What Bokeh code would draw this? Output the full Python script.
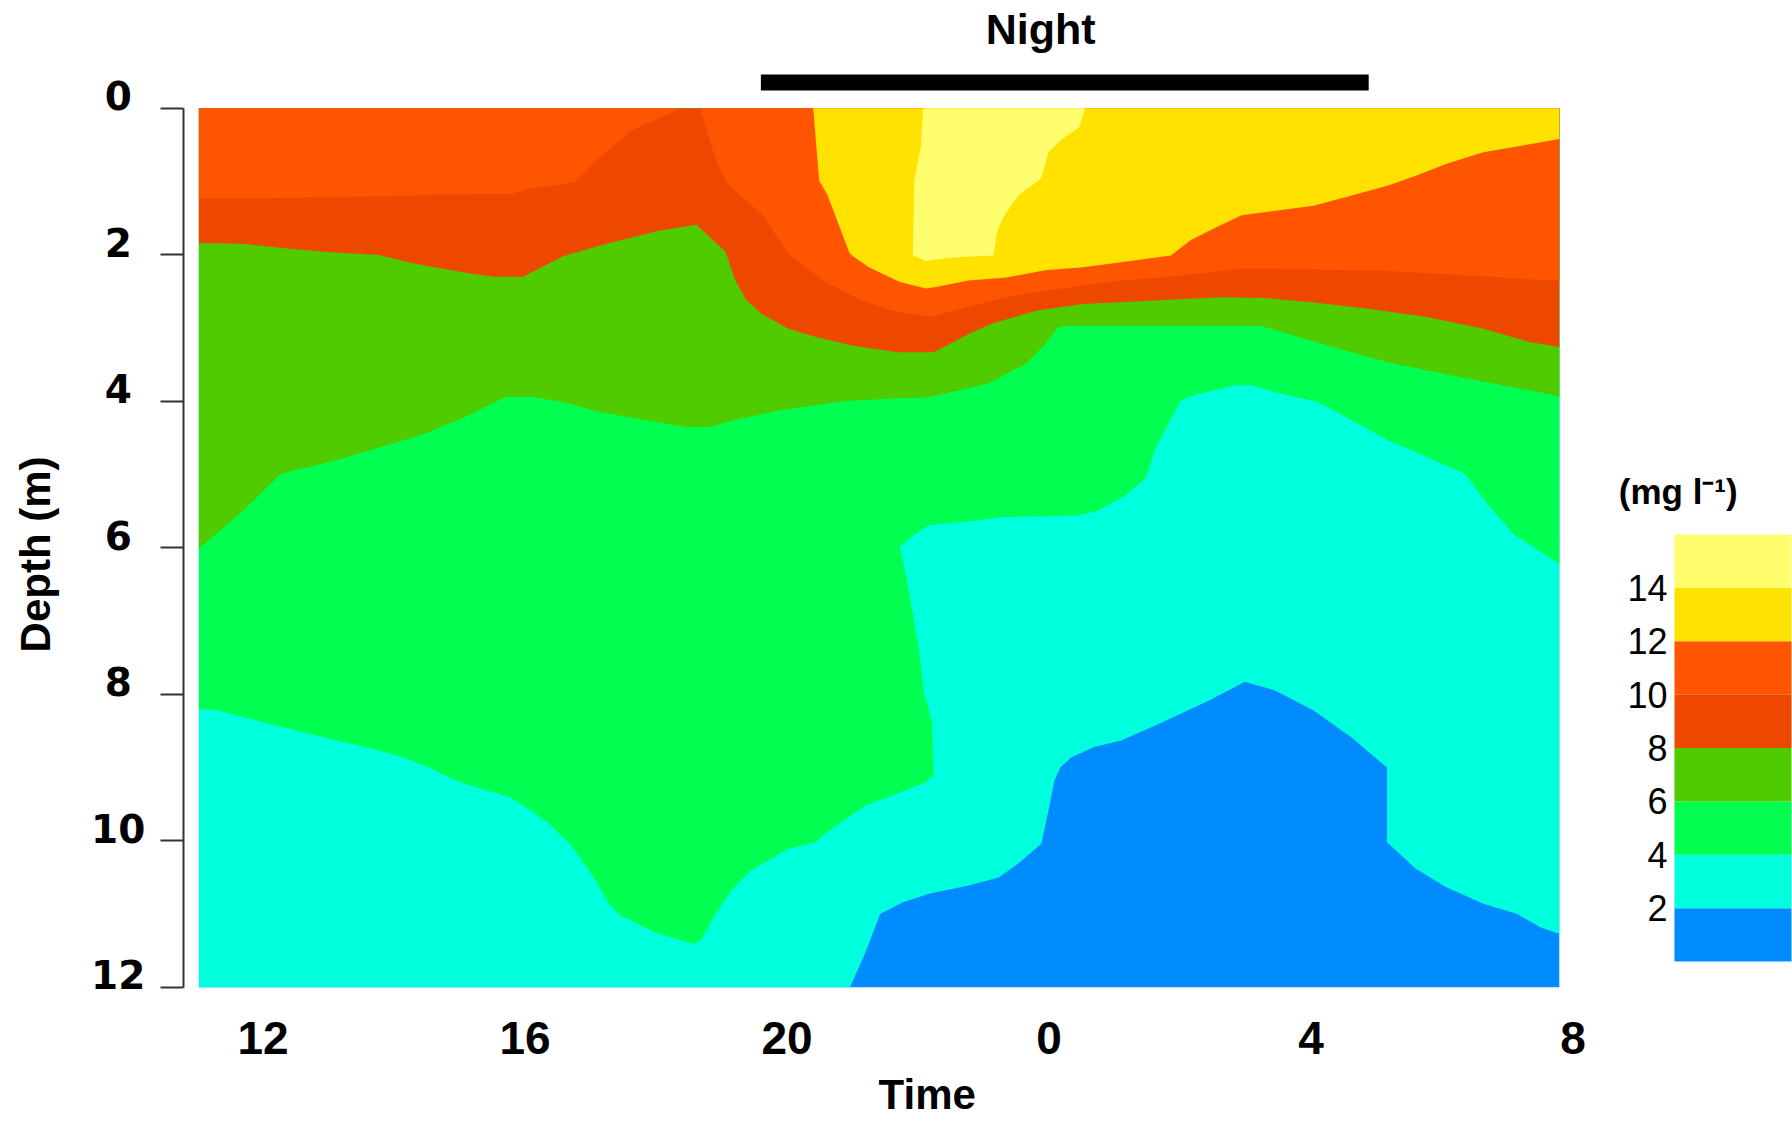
from bokeh.plotting import figure
from bokeh.models import Range1d, FixedTicker
from bokeh.layouts import row
from bokeh.embed import file_html
from bokeh.resources import INLINE
from bokeh.core.properties import value
import math

# ---------------- data ----------------
time_start, time_end = 11.02, 31.79      # hours (24 = 0:00 next day)
depth_max = 12.0

# contour lines (time in h, depth in m)
c2_time = [20.96, 21.19, 21.42, 21.77, 22.18, 22.77, 23.23, 23.53, 23.88, 23.99, 24.08, 24.17, 24.34, 24.69,
           25.10, 25.69, 26.45, 26.99, 27.46, 28.04, 28.62, 29.16, 29.16, 29.60, 30.06, 30.63, 31.15, 31.50, 31.79]
c2_depth = [12.0, 11.54, 11.00, 10.84, 10.72, 10.61, 10.50, 10.31, 10.04, 9.59, 9.18, 9.00, 8.86, 8.72,
            8.63, 8.40, 8.08, 7.83, 7.95, 8.22, 8.59, 9.00, 10.02, 10.38, 10.63, 10.86, 11.00, 11.18, 11.27]

c4_time = [11.02, 11.27, 11.91, 12.49, 13.08, 13.66, 14.13, 14.54, 14.95, 15.41, 15.76, 16.00, 16.35, 16.70,
           17.05, 17.28, 17.46, 17.98, 18.57, 18.68, 18.91, 19.15, 19.44, 20.02, 20.43, 20.61, 21.19, 21.60,
           22.12, 22.24, 22.21, 22.09, 22.01, 21.92, 21.83, 21.72, 21.95, 22.18, 22.77, 23.29, 24.46, 24.75,
           25.16, 25.48, 25.63, 26.01, 26.27, 26.86, 27.09, 27.56, 28.10, 28.62, 29.19, 29.77, 30.35, 30.69,
           31.09, 31.79]
c4_depth = [8.20, 8.21, 8.36, 8.49, 8.62, 8.74, 8.86, 9.00, 9.18, 9.31, 9.40, 9.54, 9.75, 10.06,
            10.50, 10.86, 11.02, 11.25, 11.41, 11.36, 11.00, 10.68, 10.41, 10.11, 10.02, 9.88, 9.52, 9.38,
            9.20, 9.09, 8.36, 7.99, 7.36, 6.90, 6.45, 5.99, 5.81, 5.69, 5.64, 5.58, 5.56, 5.49,
            5.29, 5.04, 4.63, 3.99, 3.90, 3.78, 3.78, 3.90, 4.01, 4.26, 4.54, 4.76, 4.99, 5.40,
            5.81, 6.22]

c6_time = [11.02, 11.70, 12.27, 13.08, 13.78, 14.48, 15.06, 15.70, 16.11, 16.58, 17.16, 17.75, 18.45, 18.80,
           19.27, 19.85, 20.84, 21.48, 22.18, 23.06, 23.64, 23.94, 24.14, 24.29, 25.69, 27.23, 28.33, 29.19,
           30.06, 30.92, 31.79]
c6_depth = [6.01, 5.49, 4.99, 4.81, 4.63, 4.44, 4.22, 3.94, 3.94, 4.01, 4.15, 4.24, 4.35, 4.35,
            4.24, 4.13, 4.00, 3.97, 3.94, 3.76, 3.49, 3.22, 2.99, 2.97, 2.97, 2.97, 3.26, 3.47,
            3.63, 3.78, 3.93]

c8_time = [11.02, 11.70, 12.43, 13.08, 13.75, 14.30, 15.18, 15.53, 15.97, 16.58, 17.16, 18.04, 18.62, 19.06,
           19.21, 19.38, 19.62, 20.02, 20.43, 21.01, 21.69, 22.24, 22.77, 23.12, 23.82, 24.52, 25.69, 26.60,
           27.29, 28.04, 28.90, 29.77, 30.63, 31.33, 31.79]
c8_depth = [1.84, 1.85, 1.92, 1.97, 2.00, 2.12, 2.26, 2.30, 2.30, 2.02, 1.87, 1.67, 1.59, 1.96,
            2.35, 2.62, 2.81, 3.01, 3.12, 3.24, 3.33, 3.33, 3.08, 2.94, 2.76, 2.67, 2.62, 2.58,
            2.59, 2.65, 2.74, 2.85, 3.01, 3.19, 3.26]

c10a_time = [11.02, 13.43, 14.62, 15.79, 16.05, 16.76, 17.05, 17.63, 18.39]
c10a_depth = [1.235, 1.21, 1.18, 1.17, 1.10, 1.01, 0.74, 0.30, 0.0]
c10b_time = [18.68, 18.80, 18.94, 19.06, 19.26, 19.61, 20.02, 20.55, 21.13, 21.60, 22.18, 22.77, 23.35, 23.94,
             24.52, 25.10, 25.69, 26.27, 26.89, 28.04, 29.19, 30.35, 31.21, 31.79]
c10b_depth = [0.0, 0.39, 0.76, 0.99, 1.17, 1.44, 1.99, 2.35, 2.62, 2.76, 2.85, 2.71, 2.58, 2.49,
              2.42, 2.35, 2.31, 2.26, 2.19, 2.20, 2.22, 2.28, 2.33, 2.35]

c12_time = [20.40, 20.49, 20.61, 20.96, 21.25, 21.72, 22.12, 22.27, 22.77, 23.35, 23.94, 24.52, 25.10, 25.86,
            26.16, 26.56, 26.94, 27.46, 28.04, 28.62, 29.19, 29.60, 30.06, 30.63, 31.21, 31.79]
c12_depth = [0.0, 0.99, 1.17, 1.99, 2.17, 2.37, 2.46, 2.44, 2.35, 2.31, 2.21, 2.17, 2.10, 2.01,
             1.80, 1.62, 1.46, 1.40, 1.33, 1.19, 1.05, 0.92, 0.76, 0.60, 0.51, 0.42]

c14_time = [22.08, 22.04, 21.94, 21.92, 22.12, 22.42, 22.65, 23.15, 23.21, 23.32, 23.53, 23.88, 23.99, 24.20,
            24.46, 24.55]
c14_depth = [0.0, 0.53, 0.99, 2.01, 2.08, 2.05, 2.03, 2.01, 1.67, 1.46, 1.19, 0.96, 0.60, 0.42,
             0.26, 0.0]

levels = [0, 2, 4, 6, 8, 10, 12, 14, 16]
band_colors = ["#008CFF", "#00FFDD", "#00FF50", "#4FCB00", "#EE4800", "#FF5500", "#FFE200", "#FFFF6E"]
colorbar_ticks = [2, 4, 6, 8, 10, 12, 14]
colorbar_labels = ["2", "4", "6", "8", "10", "12", "14"]
colorbar_title = "(mg l\u207b\u00b9)"

time_ticks = [12, 16, 20, 24, 28, 32]
time_tick_labels = ["12", "16", "20", "0", "4", "8"]
depth_ticks = [0, 2, 4, 6, 8, 10, 12]
depth_tick_labels = ["0", "2", "4", "6", "8", "10", "12"]

night_start, night_end = 19.60, 28.88
night_text = "Night"
x_title = "Time"
y_title = "Depth (m)"

FONT = value("Liberation Sans")
YFONT = value("DejaVu Sans")
H = 1121

# shared depth scale: depth 0 at 107.8 px from the top, 73.25 px per metre, frame = full height
y_rng = Range1d(13.832, -1.4717)

# ---------------- left strip: depth tick labels and title ----------------
L = figure(width=150, height=H, output_backend="svg", toolbar_location=None,
           x_range=Range1d(0, 150), y_range=y_rng,
           x_axis_location=None, y_axis_location=None,
           min_border_left=0, min_border_right=0, min_border_top=0, min_border_bottom=0)
L.outline_line_color = None
L.grid.visible = False
L.text(x=[117.7] * len(depth_ticks), y=[d - 0.17 for d in depth_ticks], text=depth_tick_labels,
       text_font=YFONT, text_font_style="bold", text_font_size="39px",
       text_align="center", text_baseline="middle", text_color="black")
L.text(x=[35], y=[6.09], text=[y_title], angle=math.pi / 2,
       text_font=FONT, text_font_style="bold", text_font_size="42px",
       text_align="center", text_baseline="middle", text_color="black")

# ---------------- main figure ----------------
X0, X1 = 10.785, 32.419          # 65.5 px per hour, y axis at 183 px
p = figure(width=1450, height=H, output_backend="svg", toolbar_location=None,
           x_range=Range1d(X0, X1), y_range=y_rng, x_axis_location=None,
           min_border_left=33, min_border_right=0, min_border_top=0, min_border_bottom=0)
p.outline_line_color = None
p.grid.visible = False
p.background_fill_color = "white"
p.border_fill_color = "white"

# filled contour bands, drawn lowest to highest
p.quad(left=[time_start], right=[time_end], top=[0], bottom=[depth_max],
       fill_color=band_colors[0], line_color=None)
p.patch(c2_time + [time_end, time_start, time_start], c2_depth + [0, 0, depth_max],
        fill_color=band_colors[1], line_color=None)
p.patch([time_start] + c4_time + [time_end], [0] + c4_depth + [0],
        fill_color=band_colors[2], line_color=None)
p.patch([time_start] + c6_time + [time_end], [0] + c6_depth + [0],
        fill_color=band_colors[3], line_color=None)
p.patch([time_start] + c8_time + [time_end], [0] + c8_depth + [0],
        fill_color=band_colors[4], line_color=None)
p.patch([time_start] + c10a_time + c10b_time + [time_end], [0] + c10a_depth + c10b_depth + [0],
        fill_color=band_colors[5], line_color=None)
p.patch(c12_time + [time_end], c12_depth + [0],
        fill_color=band_colors[6], line_color=None)
p.patch(c14_time, c14_depth, fill_color=band_colors[7], line_color=None)

# night bar and label
p.quad(left=[night_start], right=[night_end], top=[-0.461], bottom=[-0.243],
       fill_color="black", line_color=None)
p.text(x=[23.87], y=[-1.076], text=[night_text], text_font=FONT, text_font_style="bold",
       text_font_size="43px", text_align="center", text_baseline="middle", text_color="black")

# time tick labels and axis title (the reference shows no x axis line or ticks)
p.text(x=time_ticks, y=[12.69] * len(time_ticks), text=time_tick_labels,
       text_font=FONT, text_font_style="bold", text_font_size="46px",
       text_align="center", text_baseline="middle", text_color="black")
p.text(x=[22.14], y=[13.46], text=[x_title],
       text_font=FONT, text_font_style="bold", text_font_size="42px",
       text_align="center", text_baseline="middle", text_color="black")

# y axis (line + ticks; labels are drawn in the left strip)
ya = p.yaxis[0]
ya.ticker = FixedTicker(ticks=depth_ticks)
ya.bounds = (0, 12)
ya.axis_line_color = "#333333"
ya.axis_line_width = 2
ya.major_tick_line_color = "#333333"
ya.major_tick_line_width = 2
ya.major_tick_out = 23
ya.major_tick_in = 0
ya.minor_tick_line_color = None
ya.major_label_standoff = 0
ya.major_label_text_font_size = "0px"
ya.major_label_text_color = None

# ---------------- colour key ----------------
q = figure(width=192, height=H, output_backend="svg", toolbar_location=None,
           x_range=Range1d(-0.632, 1.0085), y_range=Range1d(-5.995, 36.01),
           x_axis_location=None, y_axis_location=None,
           min_border_left=0, min_border_right=0, min_border_top=0, min_border_bottom=0)
q.outline_line_color = None
q.grid.visible = False
q.quad(left=0, right=1, bottom=levels[:-1], top=levels[1:], fill_color=band_colors, line_color=None)
q.text(x=[-0.06] * len(colorbar_ticks), y=colorbar_ticks, text=colorbar_labels,
       text_font=FONT, text_font_size="36px", text_align="right", text_baseline="middle",
       text_color="black")
q.text(x=[0.032], y=[17.61], text=[colorbar_title], text_font=FONT, text_font_style="bold",
       text_font_size="35px", text_align="center", text_baseline="middle", text_color="black")

layout = row(L, p, q, spacing=0)
open("out.html", "w").write(file_html(layout, INLINE))
